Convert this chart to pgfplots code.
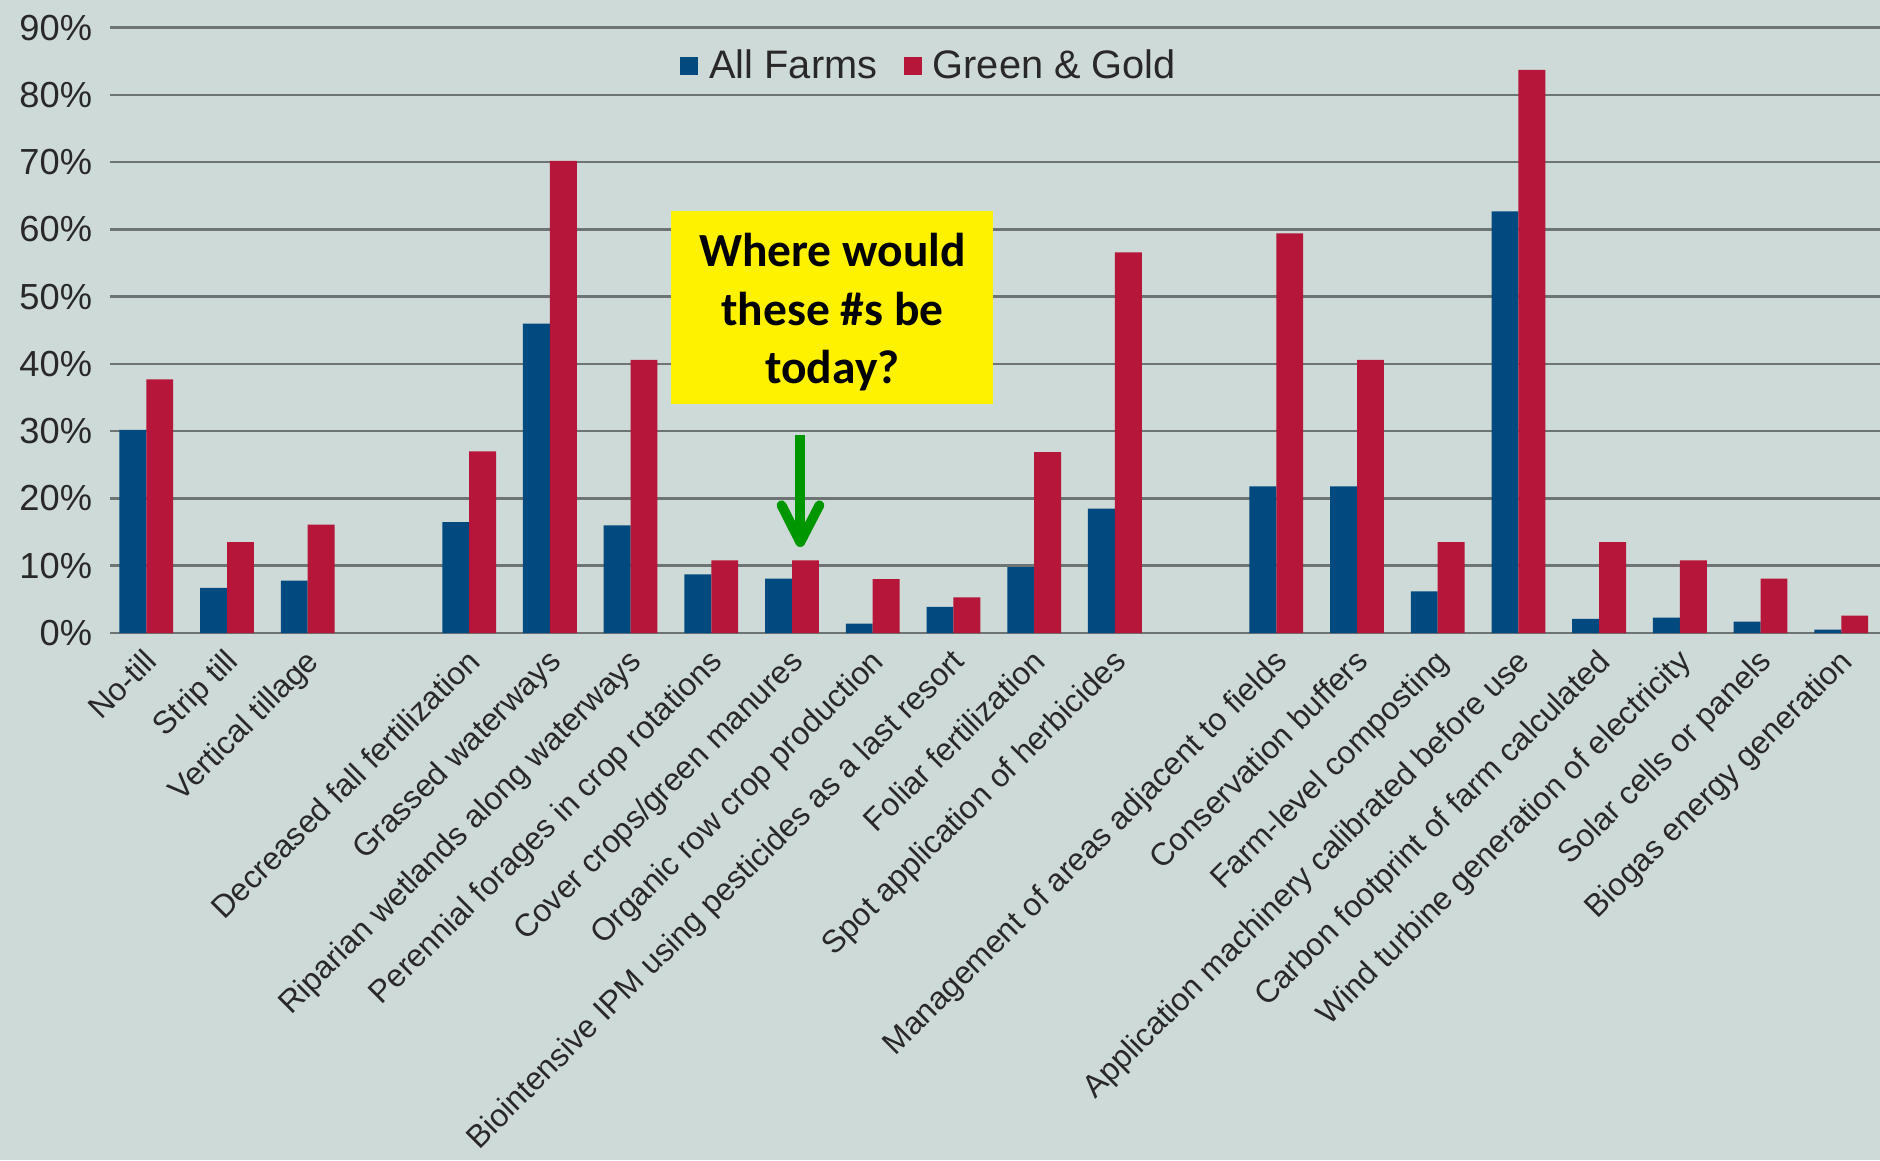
\documentclass[border=0pt]{standalone}
\usepackage{fontspec}
\setmainfont{Liberation Sans}
\newfontfamily\carlito{Carlito}
\usepackage{pgfplots}
\pgfplotsset{compat=1.18}
\definecolor{bgc}{RGB}{206,218,216}
\definecolor{afblue}{RGB}{0,74,128}
\definecolor{ggred}{RGB}{181,22,57}
\definecolor{gridc}{RGB}{110,115,115}
\definecolor{txt}{RGB}{40,40,40}
\definecolor{arrowgreen}{RGB}{0,150,0}
\begin{document}
\begin{tikzpicture}
\useasboundingbox (0,0) rectangle (752pt,464pt);
\fill[bgc] (0,0) rectangle (752pt,464pt);
\begin{axis}[
  at={(44pt,210.8pt)}, anchor=south west,
  scale only axis, width=708pt, height=242.16pt,
  xmin=-0.45, xmax=21.48, ymin=0, ymax=90,
  clip=false,
  ybar, bar width=10.76pt,
  ytick={0,10,...,90},
  yticklabel={\pgfmathprintnumber{\tick}\%},
  /pgf/number format/assume math mode=true,
  ymajorgrids, major grid style={line width=1pt, gridc},
  axis line style={draw=none},
  major tick length=0pt,
  yticklabel style={font=\fontsize{14.5}{17}\selectfont, text=txt, anchor=east, inner sep=0pt, xshift=-7pt},
  xtick={0,1,2,4,5,6,7,8,9,10,11,12,14,15,16,17,18,19,20,21},
  xticklabels={No-till,Strip till,Vertical tillage,Decreased fall fertilization,Grassed waterways,Riparian wetlands along waterways,Perennial forages in crop rotations,Cover crops/green manures,Organic row crop production,Biointensive IPM using pesticides as a last resort,Foliar fertilization,Spot application of herbicides,Management of areas adjacent to fields,Conservation buffers,Farm-level composting,Application machinery calibrated before use,Carbon footprint of farm calculated,Wind turbine generation of electricity,Solar cells or panels,Biogas energy generation},
  xticklabel style={font=\fontsize{12.7}{15}\selectfont, text=txt, xshift=-1.5pt, yshift=-5.4pt, rotate=45, anchor=north east, inner sep=0pt},
  legend style={at={(0.322,0.9366)}, anchor=west, draw=none, fill=none, inner sep=0pt,
    font=\fontsize{15.9}{18}\selectfont, text=txt,
    /tikz/every odd column/.append style={column sep=2.4pt},
    /tikz/every even column/.append style={column sep=8.6pt}},
  legend columns=2, legend cell align=left,
]
\addplot[fill=afblue, draw=none, bar shift=-5.38pt,
  legend image code/.code={\fill[afblue] (0pt,-3.6pt) rectangle (7.2pt,3.6pt);}]
  table {
x y
0 30.2
1 6.7
2 7.8
4 16.5
5 46.0
6 16.0
7 8.7
8 8.1
9 1.4
10 3.9
11 9.8
12 18.5
14 21.8
15 21.8
16 6.2
17 62.7
18 2.1
19 2.3
20 1.7
21 0.5
};
\addlegendentry{All Farms}
\addplot[fill=ggred, draw=none, bar shift=5.38pt,
  legend image code/.code={\fill[ggred] (0pt,-3.6pt) rectangle (7.2pt,3.6pt);}]
  table {
x y
0 37.7
1 13.5
2 16.1
4 27.0
5 70.2
6 40.6
7 10.8
8 10.8
9 8.0
10 5.3
11 26.9
12 56.6
14 59.4
15 40.6
16 13.5
17 83.7
18 13.5
19 10.8
20 8.1
21 2.6
};
\addlegendentry{Green \& Gold}
\fill[yellow] (axis cs:6.503,34.04) rectangle (axis cs:10.494,62.73);
\node[font=\carlito\bfseries\fontsize{19}{23.4}\selectfont, align=center, text=black] at (axis cs:8.5,47.7) {Where would\\these \#s be\\today?};
\draw[arrowgreen, line width=3.9pt] (axis cs:8.102,29.46) -- (axis cs:8.102,14.0);
\draw[arrowgreen, line width=3.9pt, line join=round, line cap=round] (axis cs:7.87,19.0) -- (axis cs:8.102,13.5) -- (axis cs:8.34,19.0);
\end{axis}
\end{tikzpicture}
\end{document}
